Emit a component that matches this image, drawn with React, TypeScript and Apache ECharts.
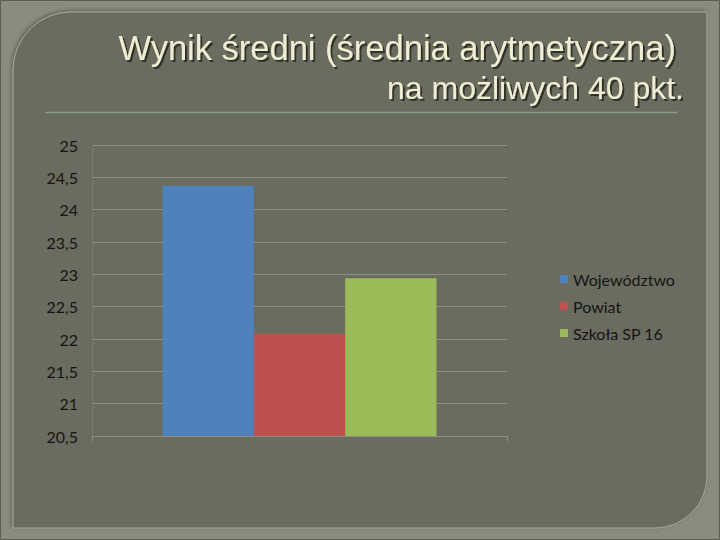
import React, { useEffect, useRef } from "react";
import * as echarts from "echarts";

const categories = [""];
const seriesNames = ["Województwo", "Powiat", "Szkoła SP 16"];
const seriesValues = [24.37, 22.08, 22.94];
const seriesColors = ["#4f81bd", "#c0504d", "#9bbb59"];
const yMin = 20.5;
const yMax = 25;
const yInterval = 0.5;
const titleLine1 = "Wynik średni (średnia arytmetyczna)";
const titleLine2 = "na możliwych 40 pkt.";

export default function App() {
  const ref = useRef<HTMLDivElement>(null);
  useEffect(() => {
    if (!ref.current) return;
    const chart = echarts.init(ref.current, null, { renderer: "svg" });
    const series = seriesNames.map((name, i) => ({
      name,
      type: "bar",
      data: [seriesValues[i]],
      itemStyle: { color: seriesColors[i] },
      barGap: "0%",
      barCategoryGap: "34%",
    }));
    const titleStyle = {
      fill: "#efedd2",
      align: "right",
      verticalAlign: "top",
      textShadowColor: "rgba(0,0,0,0.55)",
      textShadowOffsetX: 2,
      textShadowOffsetY: 2,
      textShadowBlur: 1,
    };
    chart.setOption({
      animation: false,
      backgroundColor: "#8a8d7e",
      graphic: [
        {
          type: "rect",
          z: -10,
          shape: { x: 0.5, y: 0.5, width: 719, height: 539 },
          style: { fill: "none", stroke: "#5a5d50", lineWidth: 1 },
        },
        {
          type: "rect",
          z: -9,
          shape: { x: 13, y: 12, width: 694, height: 516, r: [58, 0, 52, 0] },
          style: {
            fill: "#6b6c5f",
            stroke: "#a4a795",
            lineWidth: 1,
            shadowBlur: 4,
            shadowColor: "rgba(0,0,0,0.35)",
            shadowOffsetX: -1,
            shadowOffsetY: -1,
          },
        },
        {
          type: "text",
          x: 676,
          y: 30,
          style: {
            ...titleStyle,
            text: titleLine1,
            font: "34.5px 'Liberation Sans', Arial, sans-serif",
          },
        },
        {
          type: "text",
          x: 684,
          y: 72,
          style: {
            ...titleStyle,
            text: titleLine2,
            font: "32px 'Liberation Sans', Arial, sans-serif",
          },
        },
        {
          type: "line",
          shape: { x1: 45, y1: 112.5, x2: 677, y2: 112.5 },
          style: { stroke: "#8a9c84", lineWidth: 1.5 },
        },
      ],
      legend: {
        orient: "vertical",
        left: 555,
        top: 266,
        itemWidth: 8,
        itemHeight: 8,
        itemGap: 11,
        icon: "rect",
        data: seriesNames,
        textStyle: {
          color: "#151515",
          fontSize: 16,
          fontFamily: "Lato, 'Open Sans', sans-serif",
        },
      },
      grid: { left: 92, right: 213, top: 145, bottom: 104, containLabel: false },
      xAxis: {
        type: "category",
        data: categories,
        axisLine: { show: true, lineStyle: { color: "#8e8f80", width: 1 } },
        axisTick: { show: true, length: 5, lineStyle: { color: "#8e8f80" } },
        axisLabel: { show: false },
      },
      yAxis: {
        type: "value",
        min: yMin,
        max: yMax,
        interval: yInterval,
        axisLine: { show: true, lineStyle: { color: "#76786a", width: 1 } },
        axisTick: { show: false },
        splitLine: { show: true, lineStyle: { color: "#8e8f80", width: 1 } },
        axisLabel: {
          color: "#151515",
          fontSize: 16,
          fontFamily: "Lato, 'Open Sans', sans-serif",
          margin: 14,
          formatter: (v: number) => String(v).replace(".", ","),
        },
      },
      series,
    });
    return () => chart.dispose();
  }, []);
  return (
    <div
      ref={ref}
      style={{ position: "fixed", left: 0, top: 0, width: 720, height: 540 }}
    />
  );
}
